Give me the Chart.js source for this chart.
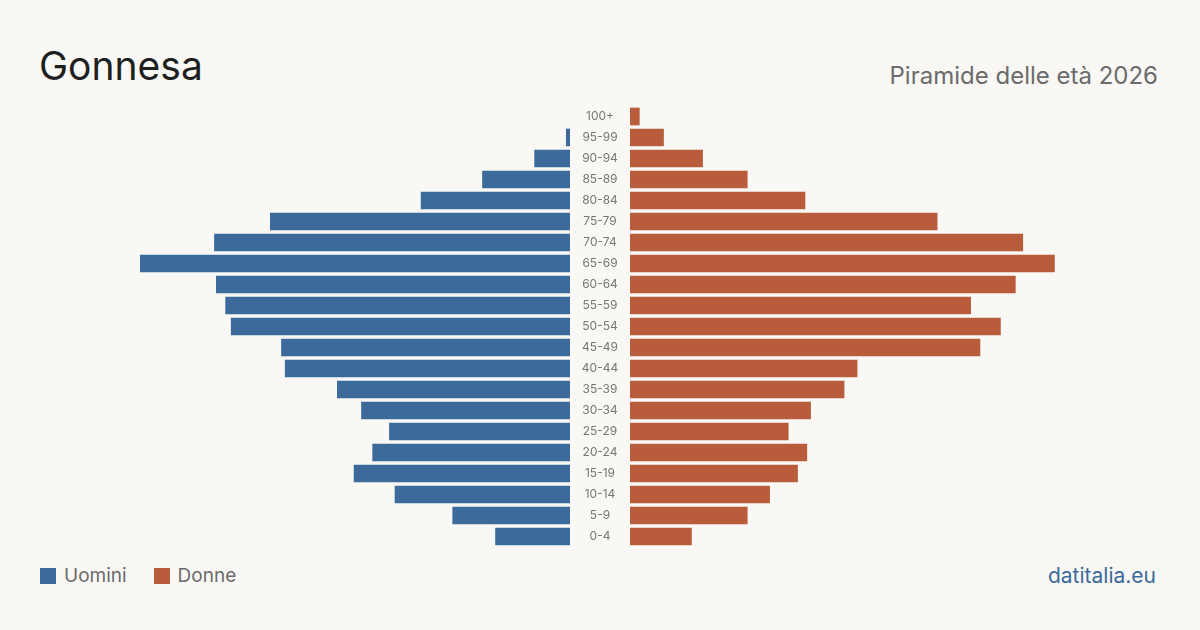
<!DOCTYPE html>
<html>
<head>
<meta charset="utf-8">
<script src="https://cdn.jsdelivr.net/npm/chart.js@4"></script>
<style>
  html, body { margin:0; padding:0; }
  body { width:1200px; height:630px; background:#f9f8f4; position:relative; overflow:hidden; font-family: Inter, "Noto Sans", sans-serif; }
  .title { position:absolute; left:39px; top:46px; font-size:39px; line-height:1; color:#1f1f1f; }
  .subtitle { position:absolute; right:42px; top:64px; font-size:24px; line-height:1; color:#6b6b6b; }
  .legend { position:absolute; left:40px; top:566px; font-size:19px; line-height:1; color:#6b6b6b; display:flex; align-items:center; }
  .legend .sw { width:16px; height:16px; display:inline-block; margin-right:8px; }
  .legend .item { display:flex; align-items:center; margin-right:27px; }
  .source { position:absolute; right:44px; top:565px; font-size:21px; line-height:1; color:#3b6a9c; }
  #wl { position:absolute; left:140px; top:106px; }
  #wr { position:absolute; left:630px; top:106px; }
</style>
</head>
<body>
<div class="title">Gonnesa</div>
<div class="subtitle">Piramide delle età 2026</div>
<div class="legend" id="legend"></div>
<div class="source">datitalia.eu</div>
<div id="wl"><canvas id="cl" width="490" height="441"></canvas></div>
<div id="wr"><canvas id="cr" width="430" height="441"></canvas></div>
<script>
const ageGroups = ['100+','95-99','90-94','85-89','80-84','75-79','70-74','65-69','60-64','55-59','50-54','45-49','40-44','35-39','30-34','25-29','20-24','15-19','10-14','5-9','0-4'];
const maleValues = [0, 2, 19, 47, 80, 161, 191, 231, 190, 185, 182, 155, 153, 125, 112, 97, 106, 116, 94, 63, 40];
const femaleValues = [5, 18, 39, 63, 94, 165, 211, 228, 207, 183, 199, 188, 122, 115, 97, 85, 95, 90, 75, 63, 33];
const seriesNames = ['Uomini', 'Donne'];
const seriesColors = ['#3b6a9b', '#b95c3c'];

const scaleMax = Math.max(...maleValues, ...femaleValues);

const legend = document.getElementById('legend');
seriesNames.forEach((n, i) => {
  const it = document.createElement('span');
  it.className = 'item';
  it.innerHTML = '<span class="sw" style="background:' + seriesColors[i] + '"></span>' + n;
  legend.appendChild(it);
});

const common = {
  responsive: false,
  animation: false,
  devicePixelRatio: 1,
  indexAxis: 'y',
  layout: { padding: 0 },
  plugins: { legend: { display: false }, tooltip: { enabled: false } }
};

const noZero = (arr) => arr.map(v => v === 0 ? null : v);

new Chart(document.getElementById('cl'), {
  type: 'bar',
  data: { labels: ageGroups, datasets: [{ label: seriesNames[0], data: noZero(maleValues), backgroundColor: seriesColors[0], borderWidth: 0, barThickness: 17 }] },
  options: Object.assign({}, common, {
    scales: {
      x: { display: false, reverse: true, min: 0, max: scaleMax },
      y: {
        position: 'right',
        grid: { display: false, drawTicks: false },
        border: { display: false },
        afterFit: (s) => {
          s.width = 60; s.paddingTop = 0; s.paddingBottom = 0;
          const widest = Math.max(...(s._labelSizes ? [s._labelSizes.widest.width] : [36]));
          s.options.ticks.padding = Math.max(0, 30 - widest / 2);
        },
        ticks: { autoSkip: false, crossAlign: 'center', padding: 12, color: '#777', font: { family: 'Inter', size: 12 } }
      }
    }
  })
});

new Chart(document.getElementById('cr'), {
  type: 'bar',
  data: { labels: ageGroups, datasets: [{ label: seriesNames[1], data: noZero(femaleValues), backgroundColor: seriesColors[1], borderWidth: 0, barThickness: 17 }] },
  options: Object.assign({}, common, {
    scales: {
      x: { display: false, min: 0, max: scaleMax },
      y: { display: false }
    }
  })
});
</script>
</body>
</html>
